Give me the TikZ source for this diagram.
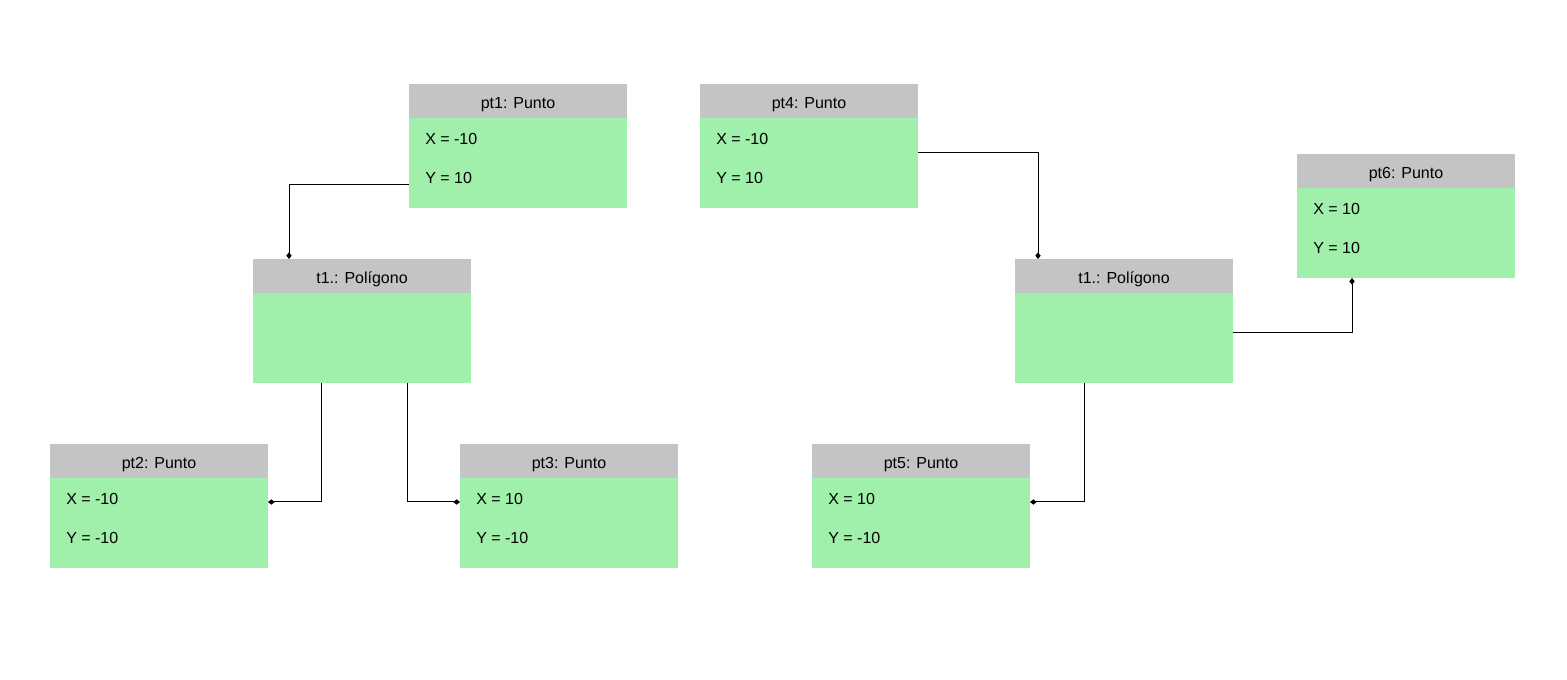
\documentclass[tikz,border=0pt]{standalone}
\usepackage{fontspec}
\setmainfont{Liberation Sans}
\usepackage{tikz}
\usetikzlibrary{arrows.meta,positioning,calc}
\definecolor{headgray}{HTML}{C4C4C4}
\definecolor{bodygreen}{HTML}{A0EFAA}
\tikzset{
  head/.style={fill=headgray,minimum width=163.5pt,minimum height=25.5pt,inner sep=0pt,outer sep=0pt,text height=11pt,text depth=0pt,anchor=north west,font=\fontsize{12}{14}\selectfont},
  body/.style={fill=bodygreen,minimum width=163.5pt,minimum height=67.5pt,inner sep=0pt,outer sep=0pt},
  attr/.style={anchor=west,inner sep=0pt,font=\fontsize{12}{14}\selectfont},
  conn/.style={-{Diamond[length=5pt,width=4pt]},line width=.75pt,draw=black}
}
\begin{document}
\begin{tikzpicture}[x=0.75pt,y=-0.75pt,node distance=0pt]
\useasboundingbox (0,0) rectangle (1567,680);
% left side
\node[head] (pt1) at (409,84) {pt1: Punto};
\node[body,below=of pt1] (pt1b) {};
\node[attr] (pt1x) at ($(pt1b.north west)+(16,21)$) {X = -10};
\node[attr] (pt1y) at ($(pt1b.north west)+(16,60)$) {Y = 10};
\node[head] (t1l) at (253,259) {t1.: Polígono};
\node[body,below=of t1l] (t1lb) {};
\node[head] (pt2) at (50,444) {pt2: Punto};
\node[body,below=of pt2] (pt2b) {};
\node[attr] (pt2x) at ($(pt2b.north west)+(16,21)$) {X = -10};
\node[attr] (pt2y) at ($(pt2b.north west)+(16,60)$) {Y = -10};
\node[head] (pt3) at (460,444) {pt3: Punto};
\node[body,below=of pt3] (pt3b) {};
\node[attr] (pt3x) at ($(pt3b.north west)+(16,21)$) {X = 10};
\node[attr] (pt3y) at ($(pt3b.north west)+(16,60)$) {Y = -10};
% right side
\node[head] (pt4) at (700,84) {pt4: Punto};
\node[body,below=of pt4] (pt4b) {};
\node[attr] (pt4x) at ($(pt4b.north west)+(16,21)$) {X = -10};
\node[attr] (pt4y) at ($(pt4b.north west)+(16,60)$) {Y = 10};
\node[head] (t1r) at (1015,259) {t1.: Polígono};
\node[body,below=of t1r] (t1rb) {};
\node[head] (pt5) at (812,444) {pt5: Punto};
\node[body,below=of pt5] (pt5b) {};
\node[attr] (pt5x) at ($(pt5b.north west)+(16,21)$) {X = 10};
\node[attr] (pt5y) at ($(pt5b.north west)+(16,60)$) {Y = -10};
\node[head] (pt6) at (1297,154) {pt6: Punto};
\node[body,below=of pt6] (pt6b) {};
\node[attr] (pt6x) at ($(pt6b.north west)+(16,21)$) {X = 10};
\node[attr] (pt6y) at ($(pt6b.north west)+(16,60)$) {Y = 10};
% links
\draw[conn] ($(pt1b.west)+(0,22)$) -| ($(t1l.north west)+(36,0)$);
\draw[conn] ($(t1lb.south west)+(68,0)$) |- ($(pt2b.east)+(0,-21)$);
\draw[conn] ($(t1lb.south west)+(154,0)$) |- ($(pt3b.west)+(0,-21)$);
\draw[conn] ($(pt4b.east)+(0,-10)$) -| ($(t1r.north west)+(23,0)$);
\draw[conn] ($(t1rb.south west)+(69,0)$) |- ($(pt5b.east)+(0,-21)$);
\draw[conn] ($(t1rb.east)+(0,-5)$) -| ($(pt6b.south west)+(55,0)$);
\end{tikzpicture}
\end{document}
